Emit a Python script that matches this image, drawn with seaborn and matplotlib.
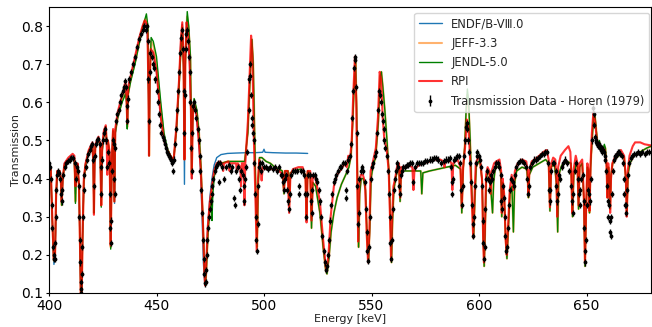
import numpy as np
import pandas as pd
import matplotlib
matplotlib.use("Agg")
import matplotlib.pyplot as plt
import seaborn as sns

# ---------------- data (Energy keV, Transmission) ----------------
endf = [(400.0,0.43),(400.8,0.425),(401.5,0.29),(402.3,0.175),(402.9,0.20),(403.4,0.36),(403.9,0.415),(405.0,0.415),(405.5,0.40),(405.9,0.335),(406.4,0.40),(407.2,0.44),(409.0,0.45),(411.0,0.46),(411.8,0.455),(412.3,0.36),(412.7,0.43),(413.3,0.44),(414.0,0.37),(414.5,0.19),(414.8,0.09),(415.2,0.09),(415.6,0.24),(416.2,0.40),(417.0,0.44),(418.5,0.47),(420.2,0.49),(420.6,0.44),(420.9,0.31),(421.2,0.44),(421.6,0.49),(423.0,0.505),(423.8,0.49),(424.3,0.33),(424.7,0.47),(425.5,0.52),(426.4,0.535),(426.9,0.49),(427.4,0.50),(428.2,0.465),(428.7,0.22),(429.2,0.44),(429.8,0.525),(430.5,0.335),(430.9,0.52),(432.0,0.565),(434.0,0.615),(435.6,0.645),(436.1,0.60),(436.4,0.54),(436.8,0.63),(438.0,0.665),(440.0,0.715),(442.0,0.765),(443.5,0.795),(444.5,0.81),(445.2,0.805),(445.8,0.775),(446.3,0.62),(446.5,0.46),(446.8,0.65),(447.3,0.74),(448.5,0.73),(450.0,0.68),(452.0,0.56),(453.5,0.50),(455.0,0.47),(457.0,0.45),(458.0,0.445),(459.3,0.54),(460.5,0.66),(461.3,0.76),(462.0,0.805),(462.6,0.70),(463.0,0.385),(463.4,0.71),(464.0,0.81),(464.7,0.78),(465.4,0.70),(466.0,0.58),(466.4,0.40),(466.8,0.55),(467.3,0.60),(468.5,0.57),(469.5,0.51),(470.5,0.42),(471.3,0.28),(471.8,0.18),(472.5,0.12),(473.0,0.16),(473.8,0.27),(474.8,0.35),(475.8,0.40),(476.8,0.435),(478.0,0.455),(480.0,0.463),(483.0,0.466),(487.0,0.467),(492.0,0.468),(496.0,0.468),(499.4,0.469),(500.0,0.477),(500.5,0.469),(504.0,0.468),(510.0,0.467),(515.0,0.467),(520.3,0.466)]

jeff = [(400.0,0.43),(400.8,0.425),(401.5,0.30),(402.2,0.185),(402.8,0.20),(403.3,0.35),(403.8,0.415),(405.0,0.415),(405.5,0.40),(405.9,0.33),(406.4,0.40),(407.2,0.435),(409.0,0.445),(411.0,0.455),(411.8,0.45),(412.3,0.34),(412.7,0.42),(413.3,0.435),(414.0,0.37),(414.5,0.19),(414.8,0.09),(415.2,0.09),(415.6,0.24),(416.2,0.39),(417.0,0.435),(418.5,0.47),(420.2,0.49),(420.6,0.44),(420.9,0.31),(421.2,0.44),(421.6,0.485),(423.0,0.505),(423.8,0.485),(424.3,0.33),(424.7,0.47),(425.5,0.515),(426.4,0.535),(426.9,0.49),(427.4,0.50),(428.2,0.46),(428.7,0.22),(429.2,0.44),(429.8,0.525),(430.4,0.34),(430.8,0.52),(432.0,0.56),(434.0,0.605),(435.6,0.63),(436.1,0.60),(436.4,0.535),(436.8,0.62),(438.0,0.66),(440.0,0.705),(442.0,0.76),(443.5,0.795),(445.0,0.82),(446.0,0.80),(446.3,0.62),(446.6,0.46),(446.9,0.66),(447.5,0.76),(448.5,0.75),(450.0,0.70),(452.0,0.58),(453.5,0.51),(455.0,0.475),(457.0,0.455),(458.0,0.45),(459.3,0.53),(460.5,0.65),(461.3,0.74),(462.0,0.80),(462.6,0.69),(463.0,0.45),(463.4,0.70),(464.2,0.825),(465.0,0.79),(465.8,0.71),(466.4,0.41),(466.9,0.57),(467.5,0.60),(468.8,0.575),(469.8,0.52),(470.7,0.43),(471.6,0.29),(472.4,0.15),(472.8,0.12),(473.2,0.16),(474.0,0.27),(474.6,0.31),(475.2,0.34),(475.8,0.37),(476.5,0.40),(477.2,0.42),(478.0,0.435),(480.0,0.44),(483.0,0.445),(486.0,0.445),(489.0,0.445),(491.0,0.445),(492.5,0.52),(493.5,0.66),(494.4,0.765),(495.0,0.70),(495.7,0.50),(496.3,0.33),(496.8,0.22),(497.3,0.38),(497.9,0.455),(499.0,0.455),(501.0,0.445),(503.0,0.44),(505.0,0.43),(507.0,0.425),(508.5,0.42),(509.3,0.36),(509.8,0.42),(511.2,0.42),(511.7,0.33),(512.2,0.415),(514.0,0.42),(517.0,0.425),(519.3,0.41),(519.8,0.30),(520.3,0.42),(521.5,0.415),(522.1,0.27),(522.7,0.39),(524.0,0.38),(526.0,0.31),(527.5,0.22),(528.7,0.16),(529.3,0.15),(530.2,0.19),(531.2,0.26),(532.5,0.31),(534.0,0.35),(536.0,0.385),(538.0,0.41),(539.5,0.43),(540.5,0.46),(541.3,0.55),(542.0,0.65),(542.6,0.71),(543.1,0.58),(543.6,0.35),(544.0,0.22),(544.5,0.36),(545.2,0.40),(546.2,0.40),(547.2,0.37),(548.0,0.24),(548.6,0.18),(549.2,0.27),(549.8,0.40),(550.5,0.425),(552.0,0.46),(553.2,0.55),(554.1,0.67),(554.6,0.68),(555.3,0.64),(556.2,0.58),(557.2,0.50),(558.2,0.41),(558.8,0.29),(559.3,0.18),(559.8,0.29),(560.4,0.37),(561.2,0.40),(562.2,0.425),(562.8,0.43),(563.3,0.34),(563.8,0.42),(565.0,0.42),(568.0,0.42),(571.0,0.42),(572.9,0.42),(573.4,0.36),(573.9,0.415),(577.0,0.42),(581.0,0.425),(585.0,0.43),(589.0,0.435),(591.4,0.425),(592.0,0.31),(592.6,0.42),(593.4,0.49),(594.0,0.57),(594.6,0.62),(595.2,0.59),(595.9,0.50),(596.7,0.36),(597.5,0.245),(598.1,0.35),(598.7,0.43),(599.7,0.445),(600.6,0.44),(601.5,0.39),(602.0,0.24),(602.4,0.17),(602.8,0.25),(603.4,0.40),(604.2,0.42),(605.0,0.41),(605.8,0.35),(606.3,0.31),(606.8,0.39),(607.5,0.425),(609.5,0.435),(610.2,0.41),(610.6,0.30),(611.0,0.39),(611.8,0.34),(612.5,0.23),(613.0,0.19),(613.5,0.25),(614.4,0.36),(615.3,0.38),(616.0,0.26),(616.6,0.39),(617.5,0.42),(620.0,0.43),(622.2,0.425),(622.6,0.40),(623.0,0.35),(623.4,0.41),(625.0,0.43),(628.0,0.44),(631.0,0.45),(632.4,0.44),(633.0,0.315),(633.6,0.43),(635.0,0.44),(636.0,0.39),(636.6,0.26),(637.1,0.41),(638.5,0.435),(641.0,0.445),(642.8,0.44),(643.5,0.30),(644.1,0.41),(645.2,0.44),(645.8,0.43),(646.3,0.32),(646.8,0.43),(648.0,0.44),(648.8,0.34),(649.3,0.17),(649.8,0.31),(650.4,0.43),(651.0,0.42),(651.4,0.31),(651.9,0.43),(652.6,0.50),(653.3,0.56),(653.9,0.565),(654.5,0.53),(655.2,0.49),(656.0,0.495),(656.8,0.475),(657.5,0.47),(658.3,0.485),(658.8,0.48),(659.4,0.43),(659.8,0.35),(660.2,0.43),(660.6,0.40),(661.0,0.32),(661.4,0.41),(662.2,0.44),(664.0,0.455),(666.0,0.465),(667.5,0.455),(668.3,0.40),(668.8,0.31),(669.3,0.41),(670.2,0.44),(672.0,0.46),(675.0,0.47),(678.0,0.48),(680.0,0.484)]

jendl = [(400.0,0.43),(400.8,0.425),(401.5,0.30),(402.2,0.185),(402.8,0.20),(403.3,0.35),(403.8,0.415),(405.0,0.415),(405.5,0.40),(405.9,0.33),(406.4,0.40),(407.2,0.435),(409.0,0.445),(411.0,0.455),(411.8,0.45),(412.3,0.335),(412.7,0.42),(413.3,0.435),(414.0,0.37),(414.5,0.19),(414.8,0.09),(415.2,0.09),(415.6,0.24),(416.2,0.39),(417.0,0.435),(418.5,0.47),(420.2,0.49),(420.6,0.44),(420.9,0.31),(421.2,0.44),(421.6,0.485),(423.0,0.505),(423.8,0.485),(424.3,0.325),(424.7,0.47),(425.5,0.515),(426.4,0.535),(426.9,0.49),(427.4,0.50),(428.2,0.46),(428.7,0.215),(429.2,0.44),(429.8,0.525),(430.4,0.34),(430.8,0.52),(432.0,0.56),(434.0,0.60),(435.6,0.622),(436.1,0.60),(436.4,0.53),(436.8,0.62),(438.0,0.655),(440.0,0.70),(442.0,0.755),(443.5,0.795),(445.3,0.832),(446.0,0.80),(446.3,0.62),(446.6,0.46),(446.9,0.66),(447.5,0.77),(448.5,0.76),(450.0,0.72),(452.0,0.60),(453.5,0.52),(455.0,0.48),(457.0,0.455),(458.0,0.45),(459.3,0.53),(460.5,0.64),(461.3,0.73),(462.0,0.79),(462.6,0.69),(463.0,0.45),(463.4,0.70),(464.3,0.838),(465.0,0.80),(465.8,0.72),(466.4,0.42),(466.9,0.58),(467.5,0.61),(468.8,0.58),(469.8,0.52),(470.7,0.43),(471.6,0.29),(472.4,0.15),(472.8,0.12),(473.2,0.16),(474.0,0.26),(475.0,0.33),(475.5,0.35),(475.8,0.29),(476.2,0.36),(477.0,0.41),(478.0,0.435),(480.0,0.44),(483.0,0.445),(486.0,0.445),(489.0,0.445),(491.0,0.445),(492.5,0.52),(493.5,0.66),(494.4,0.765),(495.0,0.70),(495.7,0.50),(496.3,0.33),(496.8,0.22),(497.3,0.38),(497.9,0.455),(499.0,0.455),(501.0,0.445),(503.0,0.44),(505.0,0.43),(507.0,0.425),(508.5,0.42),(509.3,0.36),(509.8,0.42),(511.2,0.42),(511.7,0.33),(512.2,0.415),(514.0,0.42),(517.0,0.425),(519.3,0.41),(519.8,0.30),(520.3,0.42),(521.5,0.415),(522.1,0.27),(522.7,0.39),(524.0,0.38),(526.0,0.31),(527.5,0.22),(528.7,0.16),(529.3,0.15),(530.2,0.19),(531.2,0.26),(532.5,0.31),(534.0,0.35),(536.0,0.385),(538.0,0.41),(539.5,0.43),(540.5,0.46),(541.3,0.55),(542.0,0.65),(542.6,0.71),(543.1,0.58),(543.6,0.35),(544.0,0.22),(544.5,0.36),(545.2,0.40),(546.2,0.40),(547.2,0.37),(548.0,0.24),(548.6,0.18),(549.2,0.27),(549.8,0.40),(550.5,0.425),(552.0,0.46),(553.2,0.55),(554.1,0.67),(554.6,0.68),(555.3,0.64),(556.2,0.58),(557.2,0.50),(558.2,0.41),(558.8,0.29),(559.3,0.18),(559.8,0.29),(560.4,0.37),(561.2,0.40),(562.2,0.425),(562.8,0.43),(563.3,0.34),(563.8,0.42),(565.0,0.42),(568.0,0.42),(571.0,0.42),(572.9,0.42),(573.4,0.36),(573.9,0.415),(577.0,0.42),(581.0,0.425),(585.0,0.43),(589.0,0.435),(591.4,0.425),(592.0,0.31),(592.6,0.42),(593.4,0.49),(594.0,0.58),(594.6,0.635),(595.2,0.60),(595.9,0.50),(596.7,0.36),(597.5,0.245),(598.1,0.35),(598.7,0.43),(599.7,0.445),(600.6,0.44),(601.5,0.39),(602.0,0.24),(602.4,0.17),(602.8,0.25),(603.4,0.40),(604.2,0.42),(605.0,0.41),(605.8,0.35),(606.3,0.31),(606.8,0.39),(607.5,0.425),(609.5,0.435),(610.2,0.41),(610.6,0.30),(611.0,0.39),(611.8,0.34),(612.5,0.23),(613.0,0.19),(613.5,0.25),(614.4,0.36),(615.3,0.38),(616.0,0.26),(616.6,0.39),(617.5,0.42),(620.0,0.43),(622.2,0.425),(622.6,0.40),(623.0,0.35),(623.4,0.41),(625.0,0.43),(628.0,0.44),(631.0,0.45),(632.4,0.44),(633.0,0.315),(633.6,0.43),(635.0,0.44),(636.0,0.39),(636.6,0.26),(637.1,0.41),(638.5,0.435),(641.0,0.445),(642.8,0.44),(643.5,0.30),(644.1,0.41),(645.2,0.44),(645.8,0.43),(646.3,0.32),(646.8,0.43),(648.0,0.44),(648.8,0.34),(649.3,0.17),(649.8,0.31),(650.4,0.43),(651.0,0.42),(651.4,0.31),(651.9,0.43),(652.6,0.50),(653.3,0.56),(653.9,0.57),(654.5,0.53),(655.2,0.49),(656.0,0.50),(656.8,0.475),(657.5,0.47),(658.3,0.49),(658.8,0.48),(659.4,0.43),(659.8,0.35),(660.2,0.43),(660.6,0.40),(661.0,0.32),(661.4,0.41),(662.2,0.44),(664.0,0.455),(666.0,0.465),(667.5,0.455),(668.3,0.40),(668.8,0.31),(669.3,0.41),(670.2,0.44),(672.0,0.46),(675.0,0.47),(678.0,0.48),(680.0,0.485)]

rpi = [(400.0,0.43),(400.8,0.43),(401.5,0.30),(402.2,0.19),(402.8,0.20),(403.3,0.36),(403.8,0.42),(405.0,0.42),(405.5,0.40),(405.9,0.34),(406.4,0.40),(407.2,0.44),(409.0,0.455),(411.0,0.465),(411.8,0.46),(412.3,0.38),(412.7,0.43),(413.3,0.44),(414.0,0.38),(414.5,0.20),(414.8,0.09),(415.2,0.09),(415.6,0.25),(416.2,0.40),(417.0,0.44),(418.5,0.475),(420.2,0.495),(420.6,0.44),(420.9,0.305),(421.2,0.44),(421.6,0.49),(423.0,0.51),(423.8,0.49),(424.3,0.33),(424.7,0.48),(425.5,0.525),(426.4,0.54),(426.9,0.48),(427.1,0.41),(427.4,0.50),(428.2,0.47),(428.7,0.225),(429.2,0.45),(429.8,0.53),(430.4,0.34),(430.8,0.53),(432.0,0.575),(434.0,0.62),(435.6,0.655),(436.1,0.61),(436.4,0.545),(436.8,0.64),(438.0,0.67),(440.0,0.72),(442.0,0.77),(443.5,0.80),(444.5,0.815),(445.2,0.81),(445.8,0.78),(446.3,0.62),(446.5,0.46),(446.8,0.65),(447.3,0.74),(448.5,0.73),(450.0,0.68),(452.0,0.56),(453.5,0.50),(455.0,0.475),(457.0,0.455),(458.0,0.45),(459.3,0.54),(460.5,0.66),(461.3,0.76),(462.0,0.81),(462.6,0.70),(463.0,0.45),(463.4,0.72),(464.0,0.81),(464.7,0.78),(465.4,0.70),(466.0,0.58),(466.4,0.40),(466.8,0.55),(467.3,0.60),(468.5,0.57),(469.5,0.51),(470.5,0.43),(471.5,0.30),(472.3,0.15),(472.6,0.12),(473.0,0.16),(473.8,0.27),(474.8,0.34),(475.8,0.38),(476.8,0.42),(478.0,0.44),(479.5,0.445),(480.5,0.44),(481.0,0.42),(481.4,0.44),(483.5,0.445),(484.0,0.42),(484.4,0.44),(487.0,0.44),(487.4,0.42),(487.8,0.44),(489.0,0.43),(489.3,0.38),(489.7,0.44),(490.5,0.44),(490.9,0.33),(491.3,0.44),(492.5,0.55),(493.5,0.70),(494.0,0.775),(494.6,0.72),(495.3,0.50),(496.0,0.35),(496.6,0.21),(497.2,0.40),(497.8,0.45),(498.5,0.42),(498.9,0.395),(499.4,0.43),(501.0,0.425),(503.0,0.425),(505.0,0.425),(507.0,0.42),(508.0,0.415),(508.9,0.40),(509.3,0.37),(509.7,0.42),(511.0,0.42),(511.7,0.31),(512.3,0.41),(513.5,0.425),(516.0,0.43),(518.0,0.43),(519.3,0.40),(519.8,0.285),(520.3,0.42),(521.5,0.42),(522.1,0.29),(522.7,0.41),(524.0,0.40),(526.0,0.34),(527.5,0.24),(528.7,0.17),(529.2,0.16),(530.0,0.20),(531.0,0.30),(532.5,0.38),(534.0,0.41),(536.0,0.425),(537.5,0.44),(538.5,0.43),(539.2,0.46),(540.0,0.45),(540.8,0.50),(541.5,0.62),(542.3,0.72),(542.9,0.60),(543.4,0.38),(543.8,0.235),(544.3,0.38),(545.0,0.41),(546.0,0.41),(547.0,0.39),(547.8,0.25),(548.4,0.18),(549.0,0.26),(549.6,0.42),(550.5,0.44),(552.0,0.48),(553.0,0.56),(553.8,0.68),(554.5,0.66),(555.2,0.56),(556.0,0.50),(557.0,0.48),(558.0,0.42),(558.6,0.30),(559.1,0.185),(559.6,0.30),(560.2,0.38),(561.0,0.40),(562.0,0.435),(562.8,0.44),(563.3,0.35),(563.8,0.43),(565.0,0.43),(567.0,0.435),(569.0,0.43),(569.5,0.37),(570.0,0.425),(572.0,0.435),(574.0,0.44),(577.0,0.445),(579.6,0.45),(582.0,0.45),(583.5,0.445),(584.0,0.43),(584.4,0.445),(586.0,0.45),(587.2,0.44),(587.6,0.37),(588.0,0.44),(590.0,0.45),(591.4,0.43),(592.0,0.325),(592.6,0.43),(593.5,0.48),(594.3,0.555),(595.0,0.54),(595.8,0.46),(596.6,0.35),(597.3,0.245),(597.9,0.35),(598.5,0.44),(599.5,0.455),(600.5,0.45),(601.4,0.40),(601.9,0.25),(602.3,0.18),(602.7,0.26),(603.3,0.41),(604.0,0.43),(604.8,0.42),(605.4,0.36),(605.9,0.42),(606.5,0.43),(607.0,0.44),(608.0,0.445),(609.5,0.45),(610.3,0.42),(610.6,0.31),(611.0,0.40),(611.7,0.36),(612.4,0.24),(612.9,0.20),(613.4,0.26),(614.3,0.37),(615.2,0.41),(616.0,0.37),(616.7,0.42),(618.0,0.44),(620.0,0.45),(622.0,0.445),(622.6,0.42),(623.0,0.36),(623.4,0.42),(624.5,0.445),(627.0,0.455),(630.0,0.47),(631.5,0.475),(632.4,0.45),(633.0,0.325),(633.6,0.44),(634.5,0.455),(635.5,0.45),(636.0,0.40),(636.4,0.30),(636.8,0.43),(638.0,0.46),(640.0,0.475),(641.6,0.485),(642.5,0.47),(643.0,0.40),(643.4,0.31),(643.9,0.42),(645.0,0.46),(645.8,0.44),(646.3,0.33),(646.8,0.44),(648.0,0.45),(648.8,0.35),(649.3,0.18),(649.8,0.32),(650.4,0.44),(651.0,0.42),(651.4,0.315),(651.9,0.44),(652.5,0.52),(653.2,0.574),(654.0,0.55),(654.8,0.50),(655.5,0.485),(657.0,0.48),(658.5,0.475),(659.3,0.44),(659.7,0.35),(660.1,0.44),(660.6,0.40),(661.0,0.31),(661.4,0.40),(662.0,0.44),(663.5,0.46),(665.0,0.47),(666.0,0.475),(667.5,0.46),(668.3,0.40),(668.7,0.30),(669.2,0.42),(670.0,0.46),(671.5,0.485),(672.6,0.495),(675.0,0.495),(677.0,0.49),(680.0,0.487)]

horen = [(400.2,0.44),(400.6,0.43),(401.0,0.40),(401.3,0.33),(401.6,0.27),(401.9,0.22),(402.1,0.20),(402.4,0.19),(402.7,0.19),(402.9,0.23),(403.1,0.30),(403.4,0.37),(403.7,0.41),(404.2,0.42),(404.8,0.415),(405.3,0.40),(405.7,0.36),(405.9,0.34),(406.2,0.37),(406.6,0.41),(407.3,0.43),(408.0,0.44),(408.8,0.445),(409.6,0.45),(410.4,0.455),(411.2,0.455),(411.9,0.44),(412.4,0.40),(412.9,0.43),(413.4,0.42),(413.8,0.38),(414.1,0.30),(414.3,0.24),(414.5,0.18),(414.7,0.13),(414.9,0.10),(415.1,0.11),(415.3,0.15),(415.5,0.22),(415.8,0.30),(416.1,0.37),(416.5,0.41),(417.0,0.43),(417.6,0.45),(418.3,0.465),(419.0,0.475),(419.6,0.485),(420.1,0.49),(420.5,0.45),(420.9,0.38),(421.3,0.46),(421.8,0.49),(422.4,0.50),(423.0,0.505),(423.6,0.49),(424.0,0.43),(424.3,0.36),(424.6,0.45),(425.0,0.50),(425.6,0.52),(426.2,0.53),(426.7,0.50),(427.1,0.43),(427.5,0.47),(427.9,0.44),(428.2,0.36),(428.5,0.27),(428.7,0.23),(428.9,0.29),(429.2,0.42),(429.6,0.50),(430.0,0.49),(430.3,0.40),(430.6,0.36),(430.9,0.48),(431.3,0.55),(431.8,0.57),(432.4,0.58),(433.0,0.60),(433.6,0.62),(434.2,0.63),(434.8,0.64),(435.3,0.655),(435.8,0.64),(436.1,0.59),(436.4,0.55),(436.7,0.61),(437.2,0.66),(438.0,0.68),(439.0,0.70),(440.0,0.72),(441.0,0.745),(442.0,0.765),(443.0,0.78),(443.8,0.79),(444.4,0.80),(445.0,0.79),(445.5,0.80),(445.9,0.76),(446.2,0.66),(446.5,0.55),(446.8,0.68),(447.2,0.73),(447.7,0.72),(448.2,0.70),(448.8,0.69),(449.4,0.66),(450.0,0.63),(450.6,0.60),(451.2,0.57),(451.8,0.54),(452.3,0.52),(452.8,0.51),(453.3,0.50),(453.8,0.49),(454.3,0.48),(454.8,0.47),(455.3,0.465),(455.8,0.46),(456.3,0.455),(456.8,0.45),(457.3,0.44),(457.7,0.42),(458.1,0.45),(458.6,0.49),(459.1,0.53),(459.6,0.58),(460.1,0.63),(460.6,0.68),(461.1,0.73),(461.5,0.77),(461.9,0.79),(462.3,0.74),(462.6,0.63),(462.9,0.52),(463.2,0.62),(463.5,0.74),(463.8,0.78),(464.2,0.79),(464.6,0.76),(465.0,0.72),(465.4,0.68),(465.8,0.60),(466.1,0.48),(466.4,0.42),(466.7,0.52),(467.1,0.59),(467.6,0.60),(468.1,0.58),(468.6,0.56),(469.1,0.53),(469.6,0.50),(470.0,0.46),(470.4,0.42),(470.8,0.37),(471.2,0.31),(471.6,0.24),(471.9,0.19),(472.2,0.15),(472.5,0.125),(472.8,0.13),(473.1,0.16),(473.4,0.20),(473.7,0.24),(474.0,0.27),(474.4,0.30),(474.8,0.32),(475.2,0.34),(475.6,0.36),(476.0,0.38),(476.5,0.40),(477.0,0.42),(477.5,0.43),(478.0,0.435),(478.8,0.44),(479.1,0.39),(479.5,0.44),(480.5,0.43),(481.5,0.40),(482.5,0.43),(483.5,0.435),(484.5,0.42),(485.3,0.43),(486.2,0.35),(486.5,0.33),(487.2,0.42),(488.0,0.43),(488.6,0.40),(489.0,0.37),(489.4,0.42),(490.0,0.41),(490.5,0.38),(490.9,0.34),(491.3,0.40),(491.8,0.43),(492.3,0.47),(492.8,0.58),(493.1,0.66),(493.4,0.70),(493.7,0.67),(494.0,0.62),(494.3,0.56),(494.6,0.54),(494.9,0.52),(495.2,0.50),(495.5,0.44),(495.8,0.36),(496.1,0.30),(496.4,0.24),(496.7,0.21),(497.0,0.28),(497.3,0.38),(497.7,0.43),(498.1,0.44),(498.6,0.42),(499.2,0.44),(500.0,0.43),(501.0,0.43),(502.0,0.425),(503.0,0.43),(504.0,0.425),(505.0,0.43),(506.0,0.42),(507.0,0.43),(507.8,0.41),(508.5,0.41),(509.0,0.39),(509.3,0.37),(509.7,0.40),(510.3,0.41),(510.9,0.37),(511.3,0.34),(511.7,0.32),(512.1,0.36),(512.6,0.41),(513.5,0.42),(514.5,0.42),(515.5,0.42),(516.2,0.38),(516.5,0.36),(517.2,0.42),(518.0,0.42),(518.8,0.41),(519.3,0.36),(519.7,0.30),(520.1,0.36),(520.6,0.41),(521.2,0.41),(521.8,0.34),(522.1,0.31),(522.5,0.37),(523.0,0.41),(523.7,0.41),(524.3,0.40),(524.8,0.39),(525.4,0.37),(526.0,0.34),(526.6,0.30),(527.2,0.25),(527.8,0.21),(528.3,0.18),(528.8,0.16),(529.2,0.17),(529.7,0.20),(530.2,0.24),(530.7,0.29),(531.2,0.33),(531.8,0.36),(532.4,0.39),(533.0,0.40),(533.7,0.41),(534.4,0.42),(535.2,0.43),(536.0,0.43),(536.8,0.44),(537.5,0.44),(538.0,0.37),(538.2,0.35),(538.6,0.42),(539.2,0.45),(539.8,0.46),(540.4,0.49),(541.0,0.56),(541.5,0.63),(541.9,0.69),(542.2,0.72),(542.5,0.71),(542.8,0.64),(543.1,0.52),(543.4,0.38),(543.7,0.28),(544.0,0.31),(544.4,0.40),(545.0,0.42),(545.6,0.43),(546.2,0.42),(546.8,0.39),(547.3,0.32),(547.7,0.26),(548.1,0.21),(548.5,0.185),(548.9,0.22),(549.3,0.30),(549.8,0.40),(550.3,0.43),(550.9,0.44),(551.5,0.46),(552.1,0.47),(552.7,0.52),(553.2,0.58),(553.6,0.63),(554.0,0.62),(554.4,0.60),(554.8,0.57),(555.2,0.55),(555.6,0.53),(556.0,0.50),(556.5,0.48),(557.0,0.46),(557.5,0.42),(558.0,0.36),(558.4,0.30),(558.8,0.23),(559.1,0.19),(559.5,0.24),(559.9,0.32),(560.3,0.37),(560.8,0.40),(561.3,0.42),(561.8,0.44),(562.3,0.43),(562.8,0.38),(563.2,0.36),(563.6,0.41),(564.1,0.42),(564.8,0.43),(565.5,0.43),(566.3,0.435),(567.0,0.435),(568.0,0.44),(569.0,0.44),(569.5,0.39),(570.0,0.43),(571.0,0.44),(572.0,0.44),(573.0,0.44),(574.0,0.44),(575.0,0.445),(576.0,0.445),(577.0,0.45),(578.0,0.45),(579.0,0.455),(580.0,0.455),(581.0,0.45),(582.5,0.44),(583.5,0.445),(584.5,0.45),(585.5,0.45),(586.3,0.455),(587.0,0.43),(587.3,0.39),(587.6,0.36),(588.0,0.40),(588.5,0.45),(589.2,0.455),(589.8,0.46),(590.5,0.46),(591.2,0.44),(591.6,0.37),(592.0,0.33),(592.4,0.38),(592.9,0.46),(593.4,0.50),(593.8,0.535),(594.2,0.545),(594.6,0.53),(595.0,0.50),(595.4,0.47),(595.8,0.44),(596.2,0.39),(596.6,0.33),(597.0,0.28),(597.3,0.25),(597.7,0.30),(598.1,0.38),(598.5,0.44),(598.9,0.46),(599.3,0.47),(599.8,0.46),(600.4,0.45),(600.9,0.43),(601.3,0.38),(601.7,0.29),(602.0,0.23),(602.3,0.19),(602.6,0.22),(603.0,0.32),(603.4,0.40),(603.9,0.42),(604.4,0.40),(604.8,0.37),(605.2,0.39),(605.7,0.41),(606.2,0.40),(606.7,0.42),(607.3,0.43),(608.0,0.44),(608.8,0.44),(609.5,0.43),(610.0,0.41),(610.4,0.34),(610.7,0.32),(611.1,0.38),(611.5,0.35),(611.9,0.30),(612.3,0.25),(612.7,0.21),(613.1,0.22),(613.5,0.27),(613.9,0.33),(614.4,0.37),(615.0,0.40),(615.6,0.39),(616.1,0.38),(616.6,0.41),(617.2,0.43),(618.0,0.44),(619.0,0.445),(620.0,0.445),(621.0,0.44),(622.0,0.43),(622.5,0.40),(622.9,0.36),(623.3,0.38),(623.8,0.43),(624.5,0.44),(625.5,0.45),(626.5,0.45),(627.5,0.455),(628.5,0.46),(629.3,0.465),(630.0,0.465),(630.7,0.47),(631.4,0.47),(632.0,0.44),(632.4,0.37),(632.8,0.34),(633.2,0.37),(633.6,0.42),(634.3,0.44),(635.0,0.44),(635.6,0.42),(636.0,0.38),(636.4,0.34),(636.8,0.36),(637.3,0.41),(637.9,0.40),(638.6,0.43),(639.2,0.44),(640.0,0.45),(641.0,0.44),(642.0,0.42),(642.6,0.38),(643.1,0.34),(643.5,0.31),(643.9,0.36),(644.5,0.42),(645.3,0.44),(646.0,0.40),(646.4,0.36),(646.8,0.33),(647.2,0.37),(647.6,0.40),(648.2,0.41),(648.7,0.34),(649.0,0.27),(649.2,0.21),(649.4,0.18),(649.7,0.24),(650.1,0.33),(650.6,0.37),(651.1,0.36),(651.6,0.34),(652.0,0.40),(652.5,0.50),(652.9,0.585),(653.3,0.57),(653.7,0.54),(654.0,0.51),(654.3,0.50),(654.6,0.495),(654.9,0.49),(655.2,0.49),(655.5,0.485),(655.8,0.49),(656.1,0.48),(656.4,0.485),(656.7,0.475),(657.0,0.48),(657.3,0.47),(657.6,0.475),(658.0,0.47),(658.4,0.46),(658.8,0.45),(659.2,0.42),(659.5,0.38),(659.8,0.34),(660.1,0.30),(660.4,0.33),(660.7,0.29),(661.0,0.26),(661.3,0.25),(661.6,0.30),(661.9,0.36),(662.3,0.42),(662.8,0.45),(663.3,0.46),(663.8,0.46),(664.3,0.465),(664.8,0.47),(665.3,0.47),(665.8,0.465),(666.3,0.46),(666.8,0.44),(667.3,0.40),(667.6,0.36),(667.9,0.33),(668.2,0.31),(668.5,0.33),(668.8,0.37),(669.2,0.41),(669.8,0.44),(670.5,0.455),(671.3,0.46),(672.2,0.465),(673.0,0.465),(674.0,0.47),(675.0,0.465),(676.0,0.47),(677.0,0.465),(678.0,0.47),(679.0,0.47)]
horen_err = 0.008

x_ticks = [400, 450, 500, 550, 600, 650]
y_ticks = [0.1, 0.2, 0.3, 0.4, 0.5, 0.6, 0.7, 0.8]

# ---------------- plot ----------------
sns.set_style("ticks")
plt.rcParams['font.family'] = ['DejaVu Sans']

fig = plt.figure(figsize=(6.52, 3.27), dpi=100)
ax = fig.add_axes([49/652, 34/327, 602/652, 286/327])

def frame(pairs):
    return pd.DataFrame(pairs, columns=["Energy", "Transmission"])

series = [
    (endf, "ENDF/B-V\u2162.0", "#1f77b4", 1.0, 1.0),
    (jeff, "JEFF-3.3", "#ff7f0e", 1.5, 0.6),
    (jendl, "JENDL-5.0", "green", 1.0, 1.0),
    (rpi, "RP\u2160", "red", 1.5, 0.8),
]
for pairs, lab, col, lw, al in series:
    sns.lineplot(data=frame(pairs), x="Energy", y="Transmission", color=col,
                 lw=lw, alpha=al, label=lab, estimator=None, ax=ax)

d = frame(horen)
ax.errorbar(d["Energy"], d["Transmission"], yerr=horen_err, fmt='.', color='black',
            ms=3.5, elinewidth=1, capsize=0, label="Transmission Data - Horen (1979)")

ax.set_xlim(400, 680)
ax.set_ylim(0.1, 0.85)
ax.set_xticks(x_ticks)
ax.set_yticks(y_ticks)
ax.tick_params(labelsize=10, colors='black', length=2.5, pad=1.5)
for s in ax.spines.values():
    s.set_color('black')
ax.set_xlabel("Energy [keV]", fontsize=8, color='#222222', labelpad=1)
ax.set_ylabel("Transmission", fontsize=8, color='#222222', labelpad=0)
ax.legend(loc="upper right", fontsize=8.3, labelspacing=0.55,
          bbox_to_anchor=(1.0065, 1.0))

fig.savefig("out.png", dpi=100)
